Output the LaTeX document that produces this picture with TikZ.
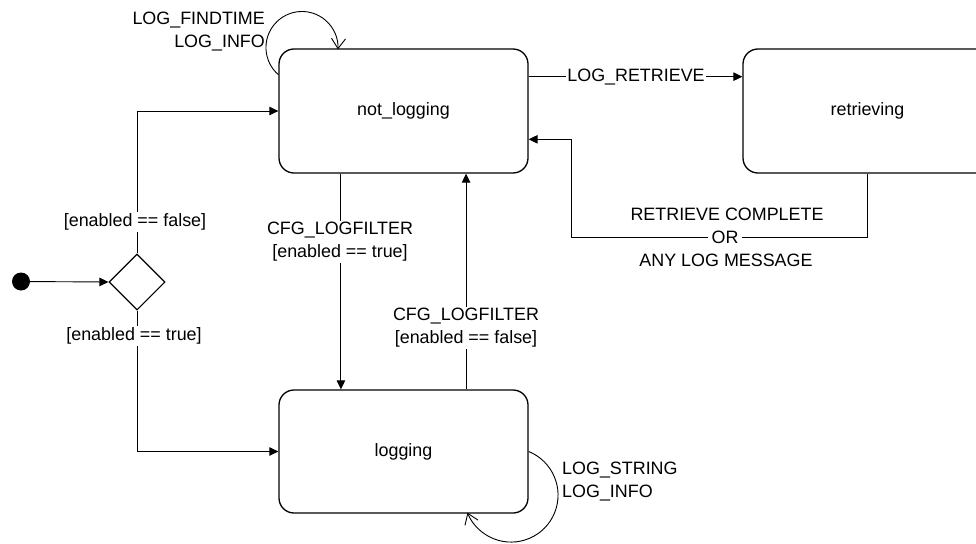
\documentclass[tikz,border=0pt]{standalone}
\usepackage{fontspec}
\setmainfont{Liberation Sans}
\usetikzlibrary{shapes.geometric,arrows.meta,calc}
\begin{document}
\begin{tikzpicture}[x=1pt,y=-1pt,
  every node/.style={font=\fontsize{17.9}{23}\selectfont},
  state/.style={draw, line width=1.3pt, rounded corners=15pt, minimum width=249pt, minimum height=124pt, inner sep=0pt},
  conn/.style={line width=0.9pt, -{Triangle[length=9pt,width=8.5pt]}},
  loopc/.style={line width=0.9pt, -{Straight Barb[length=10pt,width=14pt]}},
  lbl/.style={align=center, inner sep=1.5pt, fill=white},
  txt/.style={inner sep=0pt},
]
\useasboundingbox (0,0) rectangle (976,543);

% states
\node[state] (nl) at (403.5,111) {not\_logging};
\node[state] (rt) at (867.5,111) {retrieving};
\node[state, minimum height=123pt] (lg) at (403.5,451.5) {logging};
\node[circle, fill=black, minimum size=18pt, inner sep=0pt] (st) at (21,281.5) {};
\node[diamond, draw, line width=1.1pt, minimum width=56pt, minimum height=56pt, inner sep=0pt] (dc) at (137,282) {};

% connectors
\draw[conn] (st) -- (dc.west);
\draw[conn] (dc.north) |- (nl.west);
\draw[conn] (dc.south) |- (lg.west);
\draw[conn] ($(nl.south west)!.25!(nl.south east)$) -- ($(lg.north west)!.25!(lg.north east)$);
\draw[conn] ($(lg.north west)!.75!(lg.north east)$) -- ($(nl.south west)!.75!(nl.south east)$);
\coordinate (nlR) at ($(nl.north east)!.226!(nl.south east)$);
\draw[conn] (nlR) -- (nlR -| rt.west);
\coordinate (bend) at (571,237);
\draw[conn] (rt.south) |- (bend) |- ($(nl.north east)!.726!(nl.south east)$);

% self loops
\draw[loopc] ($(nl.north west)!.21!(nl.south west)$) arc[start angle=131, end angle=363, radius=36];
\draw[loopc] (lg.east) arc[start angle=-68, end angle=158, radius=47];

% labels
\node[lbl] (lr) at (636,77) {LOG\_RETRIEVE};
\node[lbl] (lf) at (135,222) {[enabled == false]};
\node[lbl] (lt) at (134,336) {[enabled == true]};
\node[lbl] (c1) at (340,242) {CFG\_LOGFILTER\\{}[enabled == true]};
\node[lbl] (c2) at (466,328) {CFG\_LOGFILTER\\{}[enabled == false]};
\node[lbl] (rc1) at (727,214) {RETRIEVE COMPLETE};
\node[lbl, inner xsep=4pt] (rc2) at (725,237) {OR};
\node[lbl] (rc3) at (726,260) {ANY LOG MESSAGE};
\node[txt, align=right, anchor=east] (l1) at (265,31.5) {LOG\_FINDTIME\\LOG\_INFO\hspace{6pt}};
\node[txt, align=left, anchor=west] (l2) at (562,482) {LOG\_STRING\\LOG\_INFO};
\end{tikzpicture}
\end{document}
